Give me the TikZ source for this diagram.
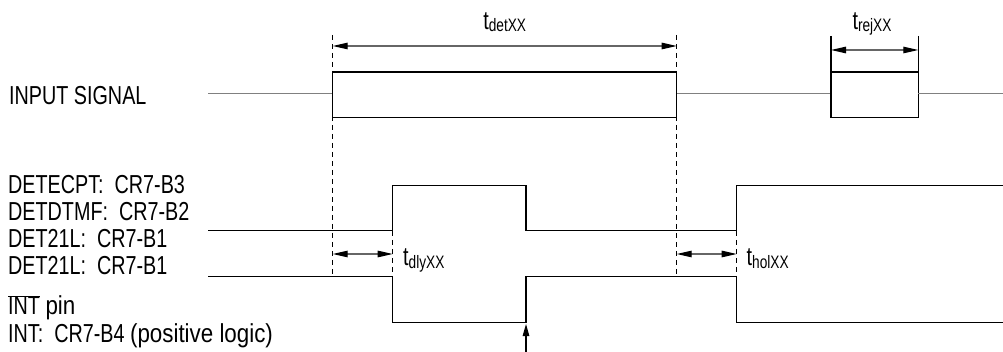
\documentclass[tikz,border=0pt]{standalone}
\usepackage{fontspec}
\setmainfont[FakeStretch=0.76]{Liberation Sans}
\newfontfamily\widefont[FakeStretch=0.86]{Liberation Sans}
\usetikzlibrary{arrows.meta}
\def\tlab#1{t\raisebox{-2.3pt}{\fontsize{18}{18}\selectfont #1}}
\tikzset{
	sig/.style={line width=1.2pt, color=black},
	idle/.style={line width=1.2pt, color=black!50},
	guide/.style={line width=0.8pt, color=black, dash pattern=on 5pt off 4pt},
	dimline/.style={line width=1.1pt, color=black!60, arrows={Triangle[length=15pt,width=6.5pt,color=black]-Triangle[length=15pt,width=6.5pt,color=black]}},
	lbl/.style={anchor=base west, inner sep=0pt, font=\fontsize{26}{28}\selectfont},
	tlbl/.style={anchor=base, inner sep=0pt, font=\fontsize{26}{28}\selectfont}
}
\begin{document}
\begin{tikzpicture}[x=1pt, y=-1pt]
	%%%%% START %%%%%
	\useasboundingbox (0, 0) rectangle (1003, 352);
	
	% labels on the left
	\node[lbl] (insig) at (9, 105) {INPUT SIGNAL};
	\node[lbl] (detcpt) at (8, 194) {DETECPT:\ \ CR7-B3};
	\node[lbl] (detdtmf) at (8, 221) {DETDTMF:\ \ CR7-B2};
	\node[lbl] (detA) at (8, 248) {DET21L:\ \ CR7-B1};
	\node[lbl] (detB) at (8, 275) {DET21L:\ \ CR7-B1};
	\node[lbl] (intpin) at (8, 315) {$\overline{\mbox{INT}}$ {\widefont pin}};
	\node[lbl] (intpos) at (8, 342) {INT:\ \ CR7-B4 {\widefont (positive logic)}};
	
	% input signal
	\draw[idle] (208, 93.5) -- (332.7, 93.5);
	\draw[sig] (332.7, 72) rectangle (676.7, 117.3);
	\draw[idle] (676.7, 93.5) -- (831, 93.5);
	\draw[sig] (831, 72) rectangle (918.3, 117.3);
	\draw[idle] (918.3, 93.5) -- (1003, 93.5);
	
	% guide lines
	\draw[guide] (332.7, 35) -- (332.7, 277);
	\draw[guide] (676.7, 35) -- (676.7, 277);
	\draw[guide] (392.7, 231) -- (392.7, 277);
	\draw[guide] (736.7, 231) -- (736.7, 277);
	\draw[sig] (831, 36) -- (831, 72);
	\draw[sig] (918.3, 36) -- (918.3, 72);
	
	% outputs
	\draw[sig] (208, 230.7) -- (392.7, 230.7) -- (392.7, 185.5) -- (526, 185.5) -- (526, 230.7) -- (736.7, 230.7) -- (736.7, 185.5) -- (1003, 185.5);
	\draw[sig] (208, 276.7) -- (392.7, 276.7) -- (392.7, 322.3) -- (526, 322.3) -- (526, 276.7) -- (736.7, 276.7) -- (736.7, 322.3) -- (1003, 322.3);
	
	% timing
	\coordinate (detL) at (332.7, 46);
	\coordinate (detR) at (676.7, 46);
	\draw[dimline] (detL) -- (detR);
	\node[tlbl] (tdet) at (504.7, 29.3) {\tlab{detXX}};
	
	\coordinate (rejL) at (831, 50);
	\coordinate (rejR) at (918.3, 50);
	\draw[dimline] (rejL) -- (rejR);
	\node[tlbl] (trej) at (872, 29.3) {\tlab{rejXX}};
	
	\coordinate (dlyL) at (332.7, 254);
	\coordinate (dlyR) at (392.7, 254);
	\draw[dimline] (dlyL) -- (dlyR);
	\node[lbl] (tdly) at (403, 266) {\tlab{dlyXX}};
	
	\coordinate (holL) at (676.7, 254);
	\coordinate (holR) at (736.7, 254);
	\draw[dimline] (holL) -- (holR);
	\node[lbl] (thol) at (746.5, 266) {\tlab{holXX}};
	
	\coordinate (irqfoot) at (526, 352);
	\coordinate (irqtip) at (526, 324);
	\draw[line width=1.1pt, -{Triangle[length=12pt,width=6.5pt]}] (irqfoot) -- (irqtip);
	
	%%%%% END %%%%%
\end{tikzpicture}
\end{document}
